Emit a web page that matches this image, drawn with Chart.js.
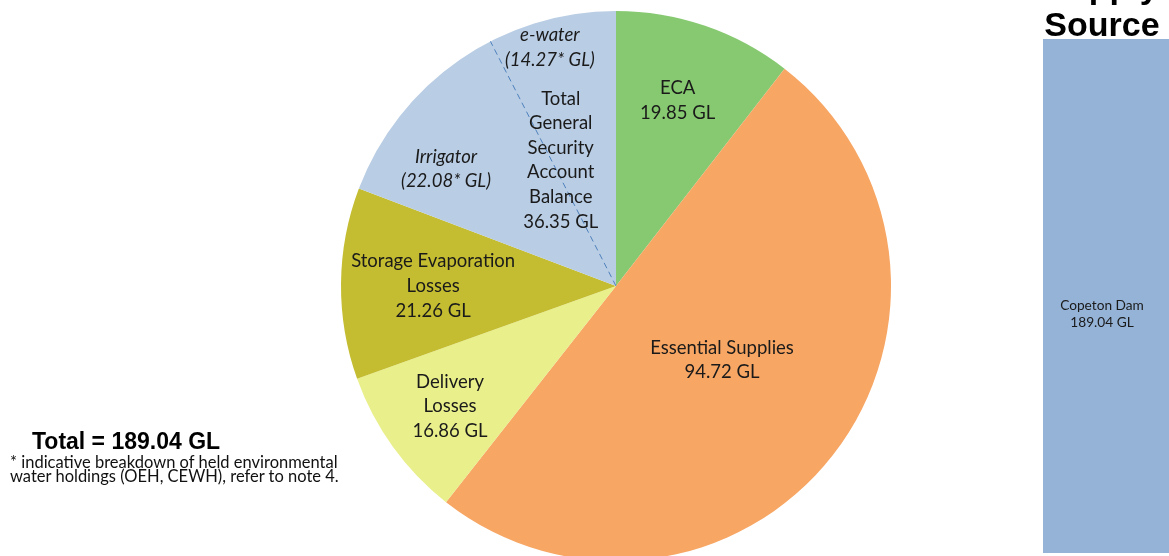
<!DOCTYPE html>
<html>
<head>
<meta charset="utf-8">
<script src="https://cdn.jsdelivr.net/npm/chart.js@4.4.1/dist/chart.umd.min.js"></script>
<style>
    html, body { margin: 0; padding: 0; background: #fff; width: 1169px; height: 556px; overflow: hidden; position: relative; }
    #pie-chart { position: absolute; left: 0; top: 0; }
    #source-chart { position: absolute; left: 1043px; top: 39px; }
    .total { position: absolute; left: 32px; top: 428px; font: bold 23px "Liberation Sans", Arial, sans-serif; color: #000; }
    .note { position: absolute; left: 10px; top: 455px; font: 16.5px Lato, "Open Sans", sans-serif; line-height: 14px; color: #111; }
    .source-title { position: absolute; left: 1030px; width: 144px; top: -33.5px; text-align: center; font: bold 34px "Liberation Sans", Arial, sans-serif; line-height: 38px; color: #000; }
</style>
</head>
<body>
<canvas id="pie-chart" width="1169" height="572"></canvas>
<canvas id="source-chart" width="126" height="514"></canvas>
<div class="total">Total = 189.04 GL</div>
<div class="note">* indicative breakdown of held environmental<br>water holdings (OEH, CEWH), refer to note 4.</div>
<div class="source-title">Supply<br>Source</div>

<script>
// ===== Data =====
const sliceNames = ['ECA', 'Essential Supplies', 'Delivery Losses', 'Storage Evaporation Losses', 'Total General Security Account Balance'];
const sliceValues = [19.85, 94.72, 16.86, 21.26, 36.35];
const sliceColors = ['#86c970', '#f7a664', '#e9ef8b', '#c4bd31', '#b9cde4'];
// how each slice label wraps
const sliceLines = [
    ['ECA'],
    ['Essential Supplies'],
    ['Delivery', 'Losses'],
    ['Storage Evaporation', 'Losses'],
    ['Total', 'General', 'Security', 'Account', 'Balance']
];

// held environmental water inside the general security slice
const heldNames = ['Irrigator', 'e-water'];
const heldValues = [22.08, 14.27];

const sourceNames = ['Copeton Dam'];
const sourceValues = [189.04];

// label anchors: angle (deg clockwise from 12 o'clock), distance as share of radius
const sliceLabelPos = [[18.4, 0.71], [124.9, 0.47], [234.1, 0.745], [270, 0.665], [336.3, 0.5]];
const heldLabelPos = [[304.5, 0.75], [344.5, 0.9]];

const LABEL_FONT = '18.5px Lato, "Open Sans", sans-serif';
const LINE_H = 24.6;

function drawBlock(ctx, lines, x, y, font) {
    ctx.font = font;
    ctx.fillStyle = '#1a1a1a';
    ctx.textAlign = 'center';
    ctx.textBaseline = 'middle';
    const top = y - (lines.length - 1) * LINE_H / 2;
    lines.forEach((t, i) => ctx.fillText(t, x, top + i * LINE_H));
}

const pieLabels = {
    id: 'pieLabels',
    afterDatasetsDraw(chart) {
        const ctx = chart.ctx;
        const arcs = chart.getDatasetMeta(0).data;
        const cx = arcs[0].x, cy = arcs[0].y, r = arcs[0].outerRadius;

        // dashed split between Irrigator and e-water
        const gs = arcs[arcs.length - 1];
        const total = sliceValues.reduce((a, b) => a + b, 0);
        const splitAngle = gs.endAngle - heldValues[1] / total * Math.PI * 2;
        ctx.save();
        ctx.strokeStyle = '#4f81bd';
        ctx.lineWidth = 1;
        ctx.setLineDash([6, 4]);
        ctx.beginPath();
        ctx.moveTo(cx, cy);
        ctx.lineTo(cx + r * Math.cos(splitAngle), cy + r * Math.sin(splitAngle));
        ctx.stroke();
        ctx.restore();

        const pos = (p) => {
            const a = p[0] * Math.PI / 180;
            return [cx + p[1] * r * Math.sin(a), cy - p[1] * r * Math.cos(a)];
        };

        ctx.save();
        sliceNames.forEach((name, i) => {
            const [x, y] = pos(sliceLabelPos[i]);
            drawBlock(ctx, sliceLines[i].concat([sliceValues[i].toFixed(2) + ' GL']), x, y, LABEL_FONT);
        });
        heldNames.forEach((name, i) => {
            const [x, y] = pos(heldLabelPos[i]);
            drawBlock(ctx, [name, '(' + heldValues[i].toFixed(2) + '* GL)'], x, y, 'italic ' + LABEL_FONT);
        });
        ctx.restore();
    }
};

new Chart(document.getElementById('pie-chart'), {
    type: 'pie',
    data: {
        labels: sliceNames,
        datasets: [{
            data: sliceValues,
            backgroundColor: sliceColors,
            borderWidth: 0
        }]
    },
    options: {
        responsive: false,
        animation: false,
        devicePixelRatio: 1,
        layout: { padding: { left: 341, right: 278, top: 11, bottom: 11 } },
        plugins: { legend: { display: false }, tooltip: { enabled: false } }
    },
    plugins: [pieLabels]
});

const barLabel = {
    id: 'barLabel',
    afterDatasetsDraw(chart) {
        const ctx = chart.ctx;
        const bar = chart.getDatasetMeta(0).data[0];
        // label sits a little below the bar's middle
        const yMid = (bar.y + bar.base) / 2 + 18;
        ctx.save();
        ctx.font = '13.7px Lato, "Open Sans", sans-serif';
        ctx.fillStyle = '#1a1a1a';
        ctx.textAlign = 'center';
        ctx.textBaseline = 'middle';
        ctx.fillText(sourceNames[0], bar.x - 4, yMid - 8.5);
        ctx.fillText(sourceValues[0].toFixed(2) + ' GL', bar.x - 4, yMid + 8.5);
        ctx.restore();
    }
};

new Chart(document.getElementById('source-chart'), {
    type: 'bar',
    data: {
        labels: sourceNames,
        datasets: [{
            data: sourceValues,
            backgroundColor: '#95b3d7',
            borderWidth: 0,
            barPercentage: 1,
            categoryPercentage: 1
        }]
    },
    options: {
        responsive: false,
        animation: false,
        devicePixelRatio: 1,
        layout: { padding: 0 },
        scales: {
            x: { display: false },
            y: { display: false, min: 0, max: sourceValues[0] }
        },
        plugins: { legend: { display: false }, tooltip: { enabled: false } }
    },
    plugins: [barLabel]
});
</script>
</body>
</html>
